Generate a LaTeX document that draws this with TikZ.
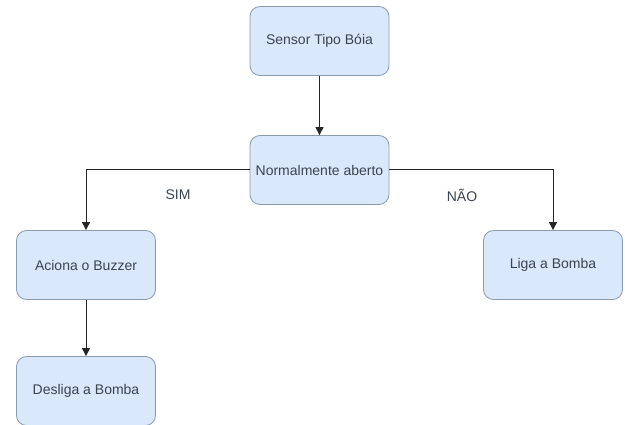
\documentclass[tikz,border=0pt]{standalone}
\usepackage{fontspec}
\setmainfont{Liberation Sans}
\usetikzlibrary{arrows.meta}
\definecolor{boxfill}{HTML}{DAE8FC}
\definecolor{boxdraw}{HTML}{8A9BB0}
\definecolor{txt}{HTML}{3A4450}
\begin{document}
\begin{tikzpicture}[x=1pt,y=-1pt,
  box/.style={draw=boxdraw, line width=0.8pt, fill=boxfill, rounded corners=10pt,
    minimum width=139pt, minimum height=69pt, inner sep=0pt, text=txt,
    font=\fontsize{14}{16}\selectfont},
  conn/.style={draw=black!85, line width=1pt, -{Triangle[length=8pt,width=8pt]}},
  lbl/.style={text=txt, font=\fontsize{14}{16}\selectfont}]
\useasboundingbox (0,0) rectangle (625,425);
\node[box] (sensor) at (319.5,41) {Sensor Tipo Bóia};
\node[box] (norm) at (319.5,170) {Normalmente aberto};
\node[box] (aciona) at (86,265) {Aciona o Buzzer};
\node[box] (desliga) at (86,391) {Desliga a Bomba};
\node[box] (liga) at (553,265) {Liga a Bomba};
\draw[conn] (sensor) -- (norm);
\draw[conn] (norm.west) -| (aciona.north);
\draw[conn] (norm.east) -| (liga.north);
\draw[conn] (aciona) -- (desliga);
\node[lbl] (sim) at (178,195) {SIM};
\node[lbl] (nao) at (462,195) {NÃO};
\end{tikzpicture}
\end{document}
